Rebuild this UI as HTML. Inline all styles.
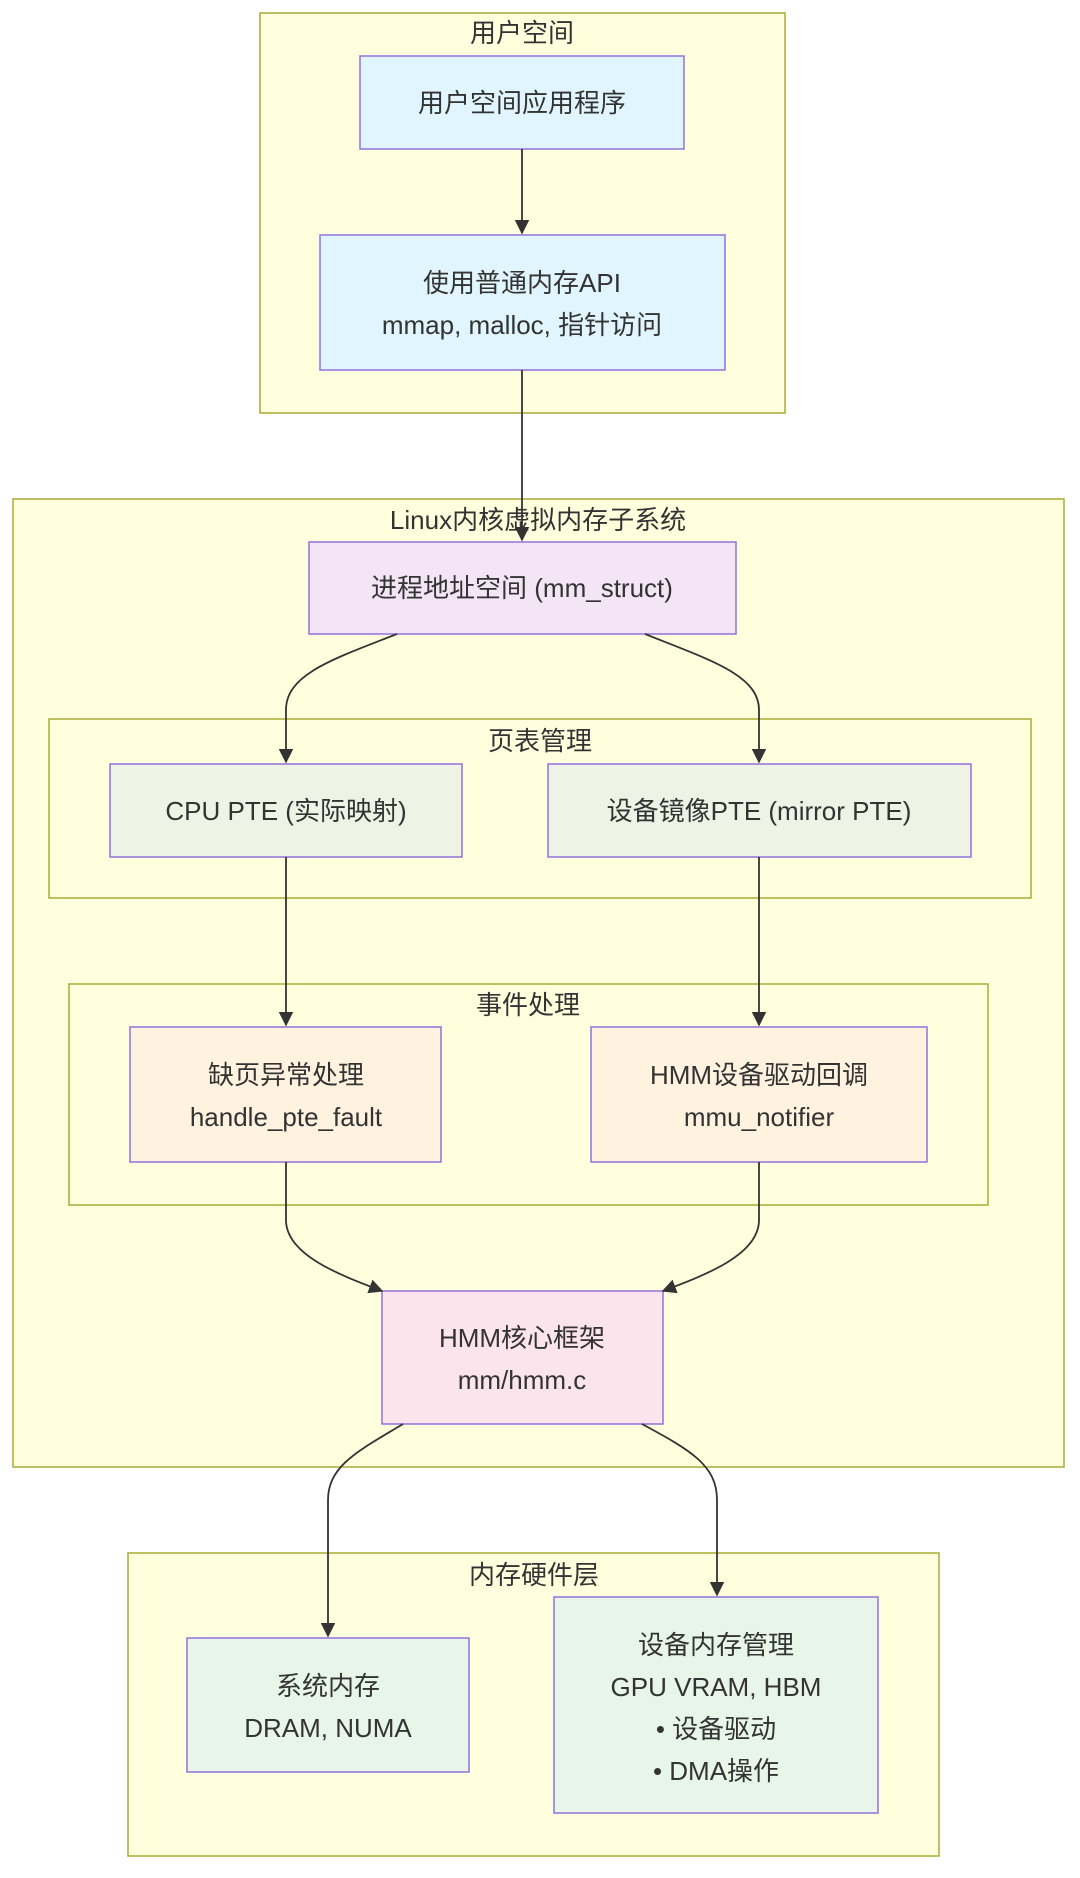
<!DOCTYPE html>
<html><head><meta charset="utf-8"><style>
html,body{margin:0;padding:0;background:#fff}
svg text{font-family:"Liberation Sans","Noto Sans CJK SC",sans-serif;font-size:26px;fill:#333;text-anchor:middle}
</style></head><body>
<svg width="1080" height="1873" viewBox="0 0 1080 1873" xmlns="http://www.w3.org/2000/svg">
<defs><marker id="a" viewBox="0 0 10 10" refX="9" refY="5" markerWidth="8" markerHeight="8" orient="auto"><path d="M0,0L10,5L0,10z" fill="#333"/></marker></defs>
<g fill="#ffffde" stroke="#aaaa33" stroke-width="1.5">
<rect x="260" y="13" width="525" height="400"/>
<rect x="13" y="499" width="1051" height="968"/>
<rect x="49" y="719" width="982" height="179"/>
<rect x="69" y="984" width="919" height="221"/>
<rect x="128" y="1553" width="811" height="303"/>
</g>
<text x="522" y="42">用户空间</text>
<text x="538" y="529">Linux内核虚拟内存子系统</text>
<text x="540" y="750">页表管理</text>
<text x="528" y="1014">事件处理</text>
<text x="534" y="1584">内存硬件层</text>
<g stroke="#9370db" stroke-width="1.5">
<rect x="360" y="56" width="324" height="93" fill="#e1f5fe"/>
<rect x="320" y="235" width="405" height="135" fill="#e1f5fe"/>
<rect x="309" y="542" width="427" height="92" fill="#f3e5f5"/>
<rect x="110" y="764" width="352" height="93" fill="#eef3e6"/>
<rect x="548" y="764" width="423" height="93" fill="#eef3e6"/>
<rect x="130" y="1027" width="311" height="135" fill="#fff3e0"/>
<rect x="591" y="1027" width="336" height="135" fill="#fff3e0"/>
<rect x="382" y="1291" width="281" height="133" fill="#fce4ec"/>
<rect x="187" y="1638" width="282" height="134" fill="#e8f5e9"/>
<rect x="554" y="1597" width="324" height="216" fill="#e8f5e9"/>
</g>
<g fill="none" stroke="#333" stroke-width="1.8" marker-end="url(#a)">
<path d="M522,149V233"/>
<path d="M522,370V540"/>
<path d="M397,634C330,660 286,675 286,710V762"/>
<path d="M645,634C710,660 759,675 759,710V762"/>
<path d="M286,857V1025"/>
<path d="M759,857V1025"/>
<path d="M286,1162V1220C286,1255 340,1275 382,1291"/>
<path d="M759,1162V1220C759,1255 705,1275 663,1291"/>
<path d="M403,1424C360,1450 328,1465 328,1500V1636"/>
<path d="M642,1424C690,1450 717,1465 717,1500V1595"/>
</g>
<text x="522" y="112">用户空间应用程序</text>
<text x="522" y="292">使用普通内存API</text>
<text x="522" y="334">mmap, malloc, 指针访问</text>
<text x="522" y="597">进程地址空间 (mm_struct)</text>
<text x="286" y="820">CPU PTE (实际映射)</text>
<text x="759" y="820">设备镜像PTE (mirror PTE)</text>
<text x="286" y="1084">缺页异常处理</text>
<text x="286" y="1126">handle_pte_fault</text>
<text x="759" y="1084">HMM设备驱动回调</text>
<text x="759" y="1126">mmu_notifier</text>
<text x="522" y="1347">HMM核心框架</text>
<text x="522" y="1389">mm/hmm.c</text>
<text x="328" y="1695">系统内存</text>
<text x="328" y="1737">DRAM, NUMA</text>
<text x="716" y="1654">设备内存管理</text>
<text x="716" y="1696">GPU VRAM, HBM</text>
<text x="716" y="1738">•  设备驱动</text>
<text x="716" y="1780">•  DMA操作</text>
</svg>
</body></html>
